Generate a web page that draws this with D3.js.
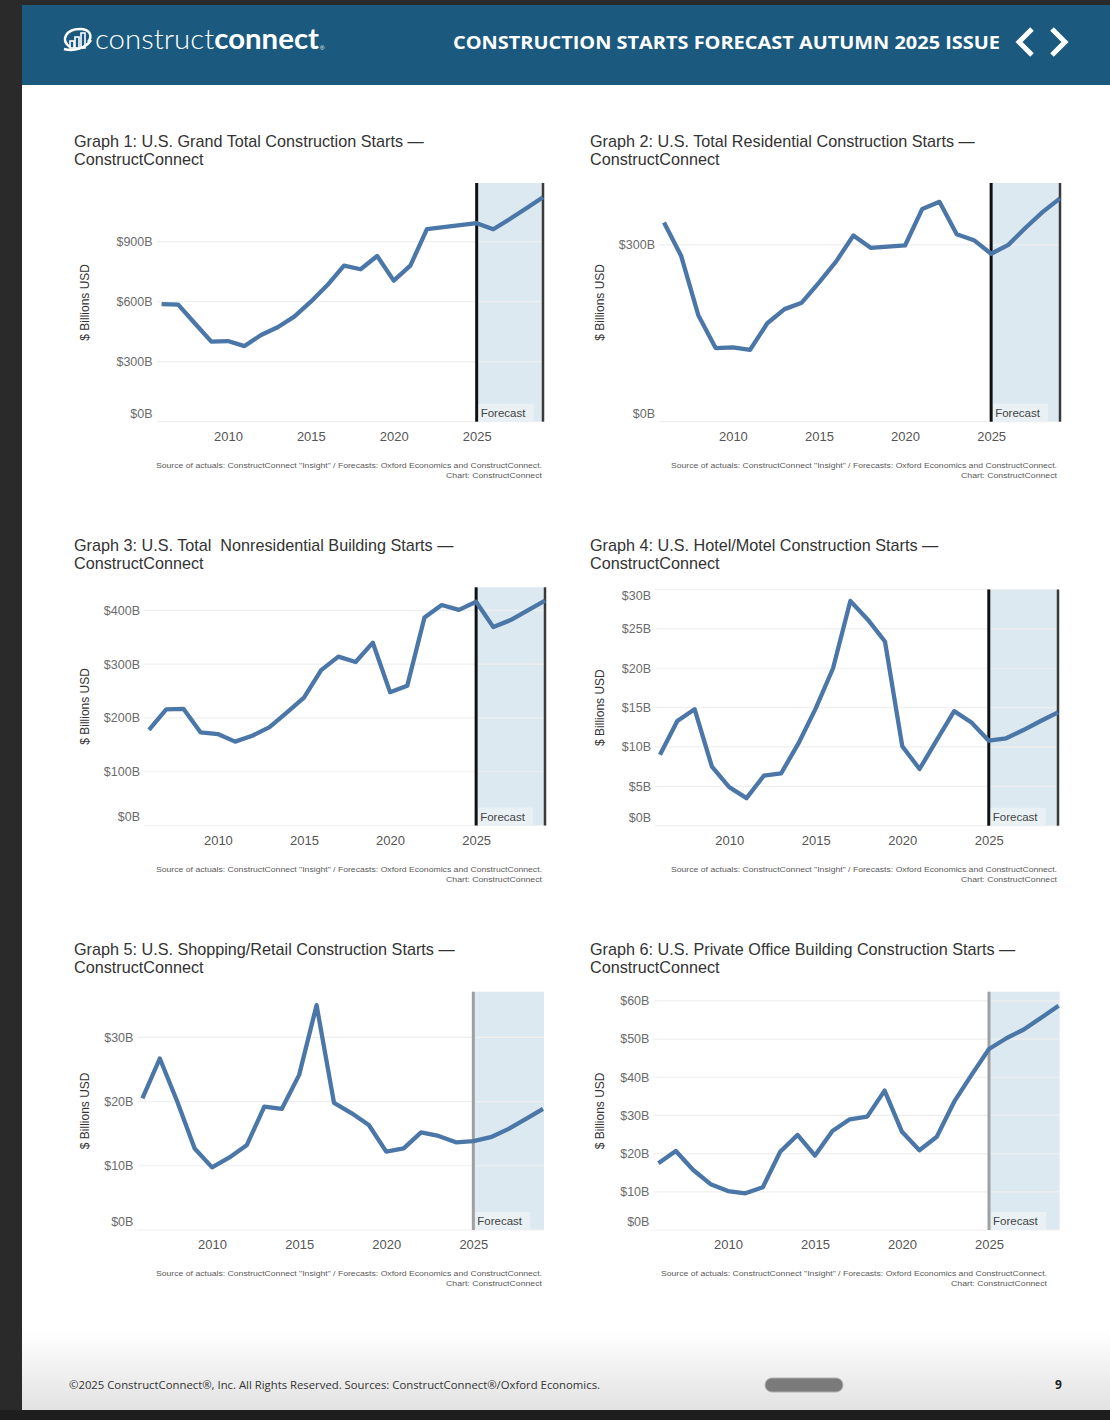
<!DOCTYPE html>
<html>
<head>
<meta charset="utf-8">
<script src="https://cdn.jsdelivr.net/npm/d3@7"></script>
<style>
  body { margin: 0; background: #2a2a2a; }
  svg { display: block; }
  text { white-space: pre; }
</style>
</head>
<body>
<svg id="page"></svg>
<script>
// data (billions USD)
var years = [2006, 2007, 2008, 2009, 2010, 2011, 2012, 2013, 2014, 2015, 2016, 2017,
             2018, 2019, 2020, 2021, 2022, 2023, 2024, 2025, 2026, 2027, 2028, 2029];
var grandTotal = [588, 585, 492, 400, 403, 378, 433, 472, 525, 600, 683, 780,
                  762, 828, 705, 780, 962, 972, 982, 992, 962, 1013, 1067, 1122];
var residential = [338, 281, 180, 125, 126, 122, 167, 191, 202, 236, 272, 316,
                   295, 297, 299, 361, 373, 318, 308, 285, 300, 329, 356, 379];
var nonresidential = [178, 216, 217, 173, 170, 156, 167, 183, 210, 238, 289, 314,
                      304, 340, 248, 260, 387, 410, 401, 416, 369, 382, 400, 418];
var hotel = [9.0, 13.3, 14.8, 7.5, 4.9, 3.5, 6.35, 6.65, 10.45, 14.9, 20.0, 28.55,
             26.2, 23.4, 10.1, 7.2, 10.9, 14.55, 13.1, 10.8, 11.1, 12.15, 13.3, 14.4];
var retail = [20.5, 26.7, 20.0, 12.7, 9.75, 11.3, 13.25, 19.2, 18.85, 24.15, 35.0, 19.8,
              18.2, 16.35, 12.2, 12.7, 15.2, 14.65, 13.65, 13.85, 14.45, 15.7, 17.25, 18.85];
var office = [17.45, 20.7, 15.7, 12.0, 10.2, 9.6, 11.2, 20.5, 24.9, 19.5, 25.9, 29.0,
              29.7, 36.5, 25.7, 20.9, 24.4, 33.6, 40.6, 47.4, 50.2, 52.5, 55.6, 58.7];

var xTicks = [2010, 2015, 2020, 2025];
var ticks1 = [0, 300, 600, 900];
var ticks2 = [0, 300];
var ticks3 = [0, 100, 200, 300, 400];
var ticks4 = [0, 5, 10, 15, 20, 25, 30];
var ticks5 = [0, 10, 20, 30];
var ticks6 = [0, 10, 20, 30, 40, 50, 60];

var forecastStart = 2025;
var titles = [
  ["Graph 1: U.S. Grand Total Construction Starts \u2014", "ConstructConnect"],
  ["Graph 2: U.S. Total Residential Construction Starts \u2014", "ConstructConnect"],
  ["Graph 3: U.S. Total  Nonresidential Building Starts \u2014", "ConstructConnect"],
  ["Graph 4: U.S. Hotel/Motel Construction Starts \u2014", "ConstructConnect"],
  ["Graph 5: U.S. Shopping/Retail Construction Starts \u2014", "ConstructConnect"],
  ["Graph 6: U.S. Private Office Building Construction Starts \u2014", "ConstructConnect"]
];
var source1 = "Source of actuals: ConstructConnect \"Insight\" / Forecasts: Oxford Economics and ConstructConnect.";
var source2 = "Chart: ConstructConnect";

var W = 1110, H = 1420;
var svg = d3.select("#page").attr("width", W).attr("height", H);
var font = "'Liberation Sans', Arial, sans-serif";

// page frame
svg.append("rect").attr("width", W).attr("height", H).attr("fill", "#2a2a2a");
svg.append("rect").attr("x", 22).attr("y", 5).attr("width", W - 22).attr("height", 1405).attr("fill", "#fff");
var grad = svg.append("defs").append("linearGradient").attr("id", "foot")
  .attr("x1", 0).attr("y1", 0).attr("x2", 0).attr("y2", 1);
grad.append("stop").attr("offset", 0).attr("stop-color", "#ffffff");
grad.append("stop").attr("offset", 1).attr("stop-color", "#e2e2e2");
svg.append("rect").attr("x", 22).attr("y", 1330).attr("width", W - 22).attr("height", 80).attr("fill", "url(#foot)");
svg.append("rect").attr("x", 0).attr("y", 1410).attr("width", W).attr("height", 10).attr("fill", "#1e1e1e");

// header
svg.append("rect").attr("x", 22).attr("y", 5).attr("width", W - 22).attr("height", 80).attr("fill", "#1b5a7e");
var logo = svg.append("g").attr("fill", "none").attr("stroke", "#fff");
logo.append("path").attr("d", "M 70 47 C 60 40, 66 29, 80 29 C 90 29, 93 36, 88 42")
  .attr("stroke-width", 2.5);
logo.append("path").attr("d", "M 64 49 C 74 52, 86 48, 91 40").attr("stroke-width", 2.5);
[[70, 41, 4], [75, 37, 4], [81, 33, 4]].forEach(function (b) {
  logo.append("rect").attr("x", b[0]).attr("y", b[1]).attr("width", b[2]).attr("height", 48 - b[1])
    .attr("fill", "none").attr("stroke-width", 1.6);
});
var logoText = svg.append("text").attr("x", 95).attr("y", 49)
  .attr("fill", "#fff").attr("font-family", "Lato, 'Open Sans', sans-serif").attr("font-size", 28)
  .attr("textLength", 224).attr("lengthAdjust", "spacingAndGlyphs");
logoText.append("tspan").attr("font-weight", 300).text("construct");
logoText.append("tspan").attr("font-weight", 700).text("connect");
svg.append("text").attr("x", 320).attr("y", 50).attr("fill", "#fff").attr("font-size", 6)
  .attr("font-family", font).text("\u00ae");

svg.append("text").attr("x", 453).attr("y", 49)
  .attr("fill", "#fff").attr("font-family", "'Open Sans', sans-serif").attr("font-weight", 700)
  .attr("font-size", 18).attr("textLength", 547).attr("lengthAdjust", "spacingAndGlyphs")
  .text("CONSTRUCTION STARTS FORECAST AUTUMN 2025 ISSUE");
svg.append("path").attr("d", "M 1032 29 L 1019 42 L 1032 55").attr("fill", "none")
  .attr("stroke", "#fff").attr("stroke-width", 5);
svg.append("path").attr("d", "M 1052 29 L 1065 42 L 1052 55").attr("fill", "none")
  .attr("stroke", "#fff").attr("stroke-width", 5);

// footer
svg.append("text").attr("x", 69).attr("y", 1389).attr("fill", "#333")
  .attr("font-family", "'Open Sans', sans-serif").attr("font-size", 10.5)
  .attr("textLength", 531).attr("lengthAdjust", "spacingAndGlyphs")
  .text("\u00a92025 ConstructConnect\u00ae, Inc. All Rights Reserved. Sources: ConstructConnect\u00ae/Oxford Economics.");
svg.append("rect").attr("x", 765).attr("y", 1378).attr("width", 78).attr("height", 14).attr("rx", 7)
  .attr("fill", "#7a7a7a").attr("stroke", "#b0b0b0").attr("stroke-width", 1);
svg.append("text").attr("x", 1055).attr("y", 1389).attr("fill", "#222").attr("font-weight", 700)
  .attr("font-family", "'Open Sans', sans-serif").attr("font-size", 12).text("9");

// panel layout: x of first/last year, top/bottom of plot, y max, title baseline, source right edge
var charts = [
  {vals: grandTotal, ticks: ticks1, x0: 161.6, x1: 543, top: 183, bottom: 421.7, ymax: 1193, edge: true, dark: true, title: titles[0], tx: 74, ty: 147, yl: 85, sx: 542},
  {vals: residential, ticks: ticks2, x0: 664, x1: 1060, top: 183, bottom: 421.7, ymax: 405, edge: true, dark: true, title: titles[1], tx: 590, ty: 147, yl: 600, sx: 1057},
  {vals: nonresidential, ticks: ticks3, x0: 149, x1: 545, top: 587.3, bottom: 825.5, ymax: 443, edge: true, dark: true, title: titles[2], tx: 74, ty: 551, yl: 85, sx: 542},
  {vals: hotel, ticks: ticks4, x0: 660, x1: 1058, top: 589.5, bottom: 825.7, ymax: 30, edge: true, dark: true, title: titles[3], tx: 590, ty: 551, yl: 600, sx: 1057},
  {vals: retail, ticks: ticks5, x0: 142.4, x1: 543, top: 991.7, bottom: 1230, ymax: 37.1, edge: false, dark: false, title: titles[4], tx: 74, ty: 955, yl: 85, sx: 542},
  {vals: office, ticks: ticks6, x0: 658.4, x1: 1058.6, top: 991.7, bottom: 1230, ymax: 62.4, edge: false, dark: false, title: titles[5], tx: 590, ty: 955, yl: 600, sx: 1047}
];

charts.forEach(function (c) {
  var g = svg.append("g");
  var x = d3.scaleLinear().domain([years[0], years[years.length - 1]]).range([c.x0, c.x1]);
  var y = d3.scaleLinear().domain([0, c.ymax]).range([c.bottom, c.top]);
  var left = c.x0 - 5, right = c.x1 + 1;

  // title
  g.append("text").attr("x", c.tx).attr("y", c.ty).attr("fill", "#333")
    .attr("font-family", font).attr("font-size", 16.2).text(c.title[0]);
  g.append("text").attr("x", c.tx).attr("y", c.ty + 18).attr("fill", "#333")
    .attr("font-family", font).attr("font-size", 16.2).text(c.title[1]);

  // forecast shade
  g.append("rect").attr("x", x(forecastStart)).attr("y", c.top)
    .attr("width", right - x(forecastStart)).attr("height", c.bottom - c.top)
    .attr("fill", "#dce9f0");

  // grid
  g.selectAll(".grid").data(c.ticks).join("line")
    .attr("x1", left).attr("x2", right)
    .attr("y1", function (d) { return y(d); }).attr("y2", function (d) { return y(d); })
    .attr("stroke", "#efefef").attr("stroke-width", 1.2);

  // y tick labels (kept inside the panel at its ends)
  g.selectAll(".ylab").data(c.ticks).join("text")
    .attr("x", left - 4)
    .attr("y", function (d) { return Math.max(c.top + 6, Math.min(c.bottom - 8.5, y(d))); })
    .attr("dy", "0.35em").attr("text-anchor", "end")
    .attr("fill", "#6b6b6b").attr("font-family", font).attr("font-size", 12.5)
    .text(function (d) { return "$" + d + "B"; });

  // x axis labels
  var xa = g.append("g").attr("transform", "translate(0," + c.bottom + ")")
    .call(d3.axisBottom(x).tickValues(xTicks).tickFormat(d3.format("d")).tickSize(0).tickPadding(10));
  xa.select(".domain").remove();
  xa.selectAll("text").attr("fill", "#555").attr("font-family", font).attr("font-size", 13);

  // y title
  g.append("text").attr("transform", "translate(" + c.yl + "," + ((c.top + c.bottom) / 2) + ") rotate(-90)")
    .attr("dy", "0.35em").attr("text-anchor", "middle").attr("fill", "#333")
    .attr("font-family", font).attr("font-size", 12).text("$ Billions USD");

  // forecast markers
  g.append("line").attr("x1", x(forecastStart)).attr("x2", x(forecastStart))
    .attr("y1", c.top).attr("y2", c.bottom)
    .attr("stroke", c.dark ? "#111" : "#a0a0a0").attr("stroke-width", 3);
  if (c.edge) {
    g.append("line").attr("x1", x(2029)).attr("x2", x(2029))
      .attr("y1", c.top).attr("y2", c.bottom)
      .attr("stroke", "#3a3a3a").attr("stroke-width", 2.5);
  }
  g.append("rect").attr("x", x(forecastStart) + 2).attr("y", c.bottom - 18)
    .attr("width", 55).attr("height", 18).attr("fill", "#e9f1f5");
  g.append("text").attr("x", x(forecastStart) + 4).attr("y", c.bottom - 5)
    .attr("fill", "#444").attr("font-family", font).attr("font-size", 11.5).text("Forecast");

  // series line
  var line = d3.line().x(function (d, i) { return x(years[i]); }).y(function (d) { return y(d); });
  g.append("path").datum(c.vals).attr("d", line)
    .attr("fill", "none").attr("stroke", "#4a76a8").attr("stroke-width", 4.3)
    .attr("stroke-linejoin", "round");

  // source
  g.append("text").attr("x", c.sx).attr("y", c.bottom + 46).attr("text-anchor", "end")
    .attr("fill", "#5a5a5a").attr("font-family", font).attr("font-size", 8)
    .attr("textLength", 386).attr("lengthAdjust", "spacingAndGlyphs").text(source1);
  g.append("text").attr("x", c.sx).attr("y", c.bottom + 56).attr("text-anchor", "end")
    .attr("fill", "#5a5a5a").attr("font-family", font).attr("font-size", 8)
    .attr("textLength", 96).attr("lengthAdjust", "spacingAndGlyphs").text(source2);
});
</script>
</body>
</html>
